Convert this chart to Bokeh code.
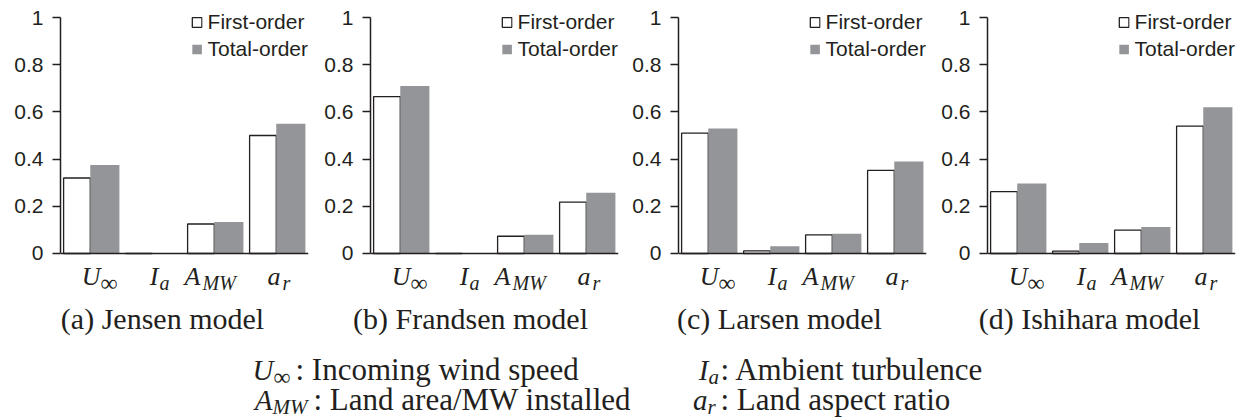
from bokeh.plotting import figure
from bokeh.models import Range1d, FixedTicker, Span, Label
from bokeh.layouts import row, column
from bokeh.embed import file_html
from bokeh.resources import INLINE

# ---------------- data ----------------
param_main = ["U", "I", "A", "a"]
param_sub = ["∞", "a", "MW", "r"]
captions = ["(a) Jensen model", "(b) Frandsen model", "(c) Larsen model", "(d) Ishihara model"]
series_names = ["First-order", "Total-order"]

first_jensen = [0.32, 0.0, 0.125, 0.50]
total_jensen = [0.375, 0.0, 0.133, 0.55]
first_frandsen = [0.665, 0.0, 0.073, 0.218]
total_frandsen = [0.71, 0.0, 0.079, 0.257]
first_larsen = [0.51, 0.011, 0.079, 0.352]
total_larsen = [0.53, 0.031, 0.084, 0.39]
first_ishihara = [0.262, 0.010, 0.099, 0.54]
total_ishihara = [0.297, 0.045, 0.112, 0.62]

y_ticks = [0, 0.2, 0.4, 0.6, 0.8, 1]
y_tick_labels = ["0", "0.2", "0.4", "0.6", "0.8", "1"]

legend_texts = [": Incoming wind speed", ": Ambient turbulence",
                ": Land area/MW installed", ": Land aspect ratio"]

# ---------------- style ----------------
INK = "#231f20"
GREY = "#939598"
SERIF = "Liberation Serif"
SANS = "Liberation Sans"

panel_widths = [318, 308, 309, 311]
panel_border_left = [60, 52, 52, 52]
FRAME_W = 248
PANEL_H = 298


def make_panel(first, total, width, bl):
    p = figure(width=width, height=PANEL_H,
               x_range=Range1d(0, 4), y_range=Range1d(-0.1907, 1.0297),
               x_axis_location=None, output_backend="svg", toolbar_location=None,
               min_border_left=bl, min_border_right=width - bl - FRAME_W,
               min_border_top=10, min_border_bottom=0)
    p.grid.grid_line_color = None
    p.outline_line_color = None
    p.background_fill_color = None
    p.border_fill_color = None

    n = len(first)
    p.vbar(x=[i + 0.265 for i in range(n)], top=first, width=0.43, bottom=0,
           fill_color="white", line_color=INK, line_width=1.3,
           legend_label=series_names[0])
    p.vbar(x=[i + 0.715 for i in range(n)], top=total, width=0.47, bottom=0,
           fill_color=GREY, line_color=None, legend_label=series_names[1])

    p.add_layout(Span(location=0, dimension="width", line_color=INK, line_width=1.5))

    ax = p.yaxis[0]
    ax.ticker = FixedTicker(ticks=y_ticks)
    ax.major_label_overrides = {t: s for t, s in zip(y_ticks, y_tick_labels)}
    ax.bounds = (0, 1)
    ax.major_tick_out = 8
    ax.major_tick_in = 0
    ax.minor_tick_line_color = None
    ax.axis_line_color = INK
    ax.axis_line_width = 1.5
    ax.major_tick_line_color = INK
    ax.major_tick_line_width = 1.5
    ax.major_label_text_font = SANS
    ax.major_label_text_font_size = "21px"
    ax.major_label_text_color = INK
    ax.major_label_standoff = 9

    lg = p.legend[0]
    lg.location = "top_right"
    lg.border_line_color = None
    lg.background_fill_alpha = 0
    lg.label_text_font = SANS
    lg.label_text_font_size = "21px"
    lg.label_text_color = INK
    lg.glyph_width = 12
    lg.glyph_height = 12
    lg.label_standoff = 5
    lg.label_height = 24
    lg.padding = 0
    lg.margin = 0
    lg.spacing = 3

    main_dx = [9, 5, -15, 3]
    sub_dx = [9, 6, -13, 5]
    sub_size = ["24px", "20px", "20px", "20px"]
    for k in range(n):
        p.add_layout(Label(x=k + 0.5, y=-0.0975, x_offset=main_dx[k], text=param_main[k],
                           text_font=SERIF, text_font_style="italic", text_font_size="26px",
                           text_align="right", text_baseline="middle", text_color=INK))
        p.add_layout(Label(x=k + 0.5, y=-0.123, x_offset=sub_dx[k], text=param_sub[k],
                           text_font=SERIF,
                           text_font_style="normal" if param_sub[k] == "∞" else "italic",
                           text_font_size=sub_size[k], text_align="left",
                           text_baseline="middle", text_color=INK))
    return p


firsts = [first_jensen, first_frandsen, first_larsen, first_ishihara]
totals = [total_jensen, total_frandsen, total_larsen, total_ishihara]
panels = [make_panel(f, t, w, b) for f, t, w, b in
          zip(firsts, totals, panel_widths, panel_border_left)]

# ---------------- captions + symbol legend below ----------------
LW = sum(panel_widths)
LH = 121
leg = figure(width=LW, height=LH, x_range=Range1d(0, LW), y_range=Range1d(0, LH),
             x_axis_location=None, y_axis_location=None, output_backend="svg",
             toolbar_location=None, min_border=0)
leg.grid.grid_line_color = None
leg.outline_line_color = None
leg.background_fill_color = None
leg.border_fill_color = None

caption_centers = [162, 470, 779, 1089]
for cx, cap in zip(caption_centers, captions):
    leg.add_layout(Label(x=cx, y=101, text=cap, text_font=SERIF, text_font_size="30px",
                         text_align="center", text_baseline="middle", text_color=INK))

# layout of the four legend entries (order follows param lists)
entry_main_right = [273, 708, 272, 707]
entry_sub_left = [273, 708, 272, 707]
entry_sub_size = ["24px", "21px", "21px", "21px"]
entry_text_left = [295, 720, 313, 720]
entry_mid = [50, 50, 20, 20]

for k in range(4):
    leg.add_layout(Label(x=entry_main_right[k], y=entry_mid[k], text=param_main[k],
                         text_font=SERIF, text_font_style="italic", text_font_size="29px",
                         text_align="right", text_baseline="middle", text_color=INK))
    leg.add_layout(Label(x=entry_sub_left[k], y=entry_mid[k] - 7, text=param_sub[k],
                         text_font=SERIF,
                         text_font_style="normal" if param_sub[k] == "∞" else "italic",
                         text_font_size=entry_sub_size[k], text_align="left",
                         text_baseline="middle", text_color=INK))
    leg.add_layout(Label(x=entry_text_left[k], y=entry_mid[k], text=legend_texts[k],
                         text_font=SERIF, text_font_size="31px", text_align="left",
                         text_baseline="middle", text_color=INK))

layout = column(row(*panels), leg)

open("out.html", "w").write(file_html(layout, INLINE))
